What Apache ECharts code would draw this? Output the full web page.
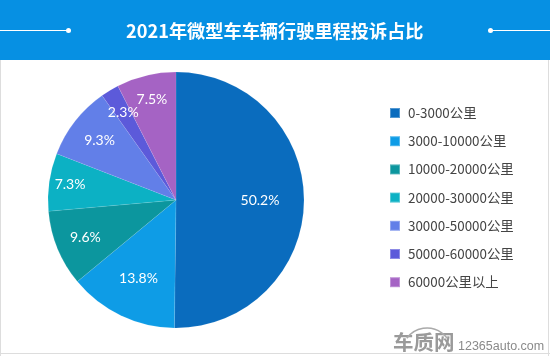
<!DOCTYPE html>
<html>
<head>
<meta charset="utf-8">
<style>
  html, body { margin: 0; padding: 0; background: #fff; }
  #chart { width: 550px; height: 356px; }
</style>
<script src="https://cdn.jsdelivr.net/npm/echarts@6/dist/echarts.min.js"></script>
</head>
<body>
<div id="chart"></div>
<script>
const titleText = '2021年微型车车辆行驶里程投诉占比'
const categories = ['0-3000公里', '3000-10000公里', '10000-20000公里', '20000-30000公里', '30000-50000公里', '50000-60000公里', '60000公里以上']
const shares = [50.2, 13.8, 9.6, 7.3, 9.3, 2.3, 7.5]
const colors = ['#0a6cbe', '#0e9ce6', '#0c969e', '#0cb1c4', '#627fe8', '#5c5ada', '#a563c4']

// how far from the pie centre each label sits, it varies in the original
const labelRadius = [84, 87, 98, 107, 97, 102, 103]

const font = '"Noto Sans CJK SC", "Noto Sans", sans-serif'
const pieCenter = [176, 200]
const chart = echarts.init(document.getElementById('chart'))

chart.setOption({
  animation: false,
  backgroundColor: '#fff',
  color: colors,
  title: {
    text: titleText,
    left: 126,
    top: 19,
    padding: 0,
    textStyle: { color: '#fff', fontSize: 18.2, fontWeight: 'bold', fontFamily: font, lineHeight: 24 }
  },
  legend: {
    orient: 'vertical',
    left: 389,
    top: 104,
    padding: 0,
    itemWidth: 10,
    itemHeight: 10,
    itemGap: 10.2,
    icon: 'rect',
    selectedMode: false,
    textStyle: { color: '#444', fontSize: 13.4, fontFamily: font, lineHeight: 18, padding: [0, 0, 0, 3] }
  },
  series: [{
    type: 'pie',
    center: pieCenter,
    radius: [0, 128],
    startAngle: 90,
    clockwise: true,
    silent: true,
    data: categories.map((name, i) => ({ name, value: shares[i] })),
    itemStyle: { borderColor: 'rgba(255,255,255,0.3)', borderWidth: 0.3 },
    label: {
      position: 'inside',
      formatter: p => p.value.toFixed(1) + '%',
      color: '#fff',
      fontSize: 14,
      fontWeight: 400,
      fontFamily: 'Lato, sans-serif'
    },
    labelLine: { show: false },
    labelLayout: p => {
      const r = p.labelRect
      const x = r.x + r.width / 2 - pieCenter[0]
      const y = r.y + r.height / 2 - pieCenter[1]
      const k = labelRadius[p.dataIndex] / Math.sqrt(x * x + y * y)
      return { dx: x * k - x, dy: y * k - y }
    }
  }],
  graphic: [
    { type: 'rect', z: -1, shape: { x: 0, y: 0, width: 550, height: 60 }, style: { fill: '#0690e3' } },
    { type: 'line', shape: { x1: 0, y1: 30.5, x2: 68, y2: 30.5 }, style: { stroke: '#fff', lineWidth: 1 } },
    { type: 'circle', shape: { cx: 68.5, cy: 30.5, r: 2.5 }, style: { fill: '#fff' } },
    { type: 'line', shape: { x1: 491, y1: 30.5, x2: 550, y2: 30.5 }, style: { stroke: '#fff', lineWidth: 1 } },
    { type: 'circle', shape: { cx: 490.5, cy: 30.5, r: 2.5 }, style: { fill: '#fff' } },
    // thin frame
    { type: 'line', shape: { x1: 0.5, y1: 60, x2: 0.5, y2: 356 }, style: { stroke: '#ddd', lineWidth: 1 } },
    { type: 'line', shape: { x1: 548.5, y1: 60, x2: 548.5, y2: 356 }, style: { stroke: '#ddd', lineWidth: 1 } },
    { type: 'line', shape: { x1: 0, y1: 353.5, x2: 550, y2: 353.5 }, style: { stroke: '#ddd', lineWidth: 1 } },
    // watermark
    { type: 'text', style: { x: 393, y: 332, text: '车质网', fill: '#9a9a9a', font: 'bold 20.5px ' + font } },
    { type: 'arc', shape: { cx: 427, cy: 353, r: 25, startAngle: Math.PI * 1.2, endAngle: Math.PI * 1.8 }, style: { stroke: '#aaa', lineWidth: 1.5, fill: null } },
    { type: 'text', style: { x: 458, y: 340, text: '12365auto.com', fill: '#8a8a8a', font: '12.5px "Liberation Sans", sans-serif' } }
  ]
})
</script>
</body>
</html>
